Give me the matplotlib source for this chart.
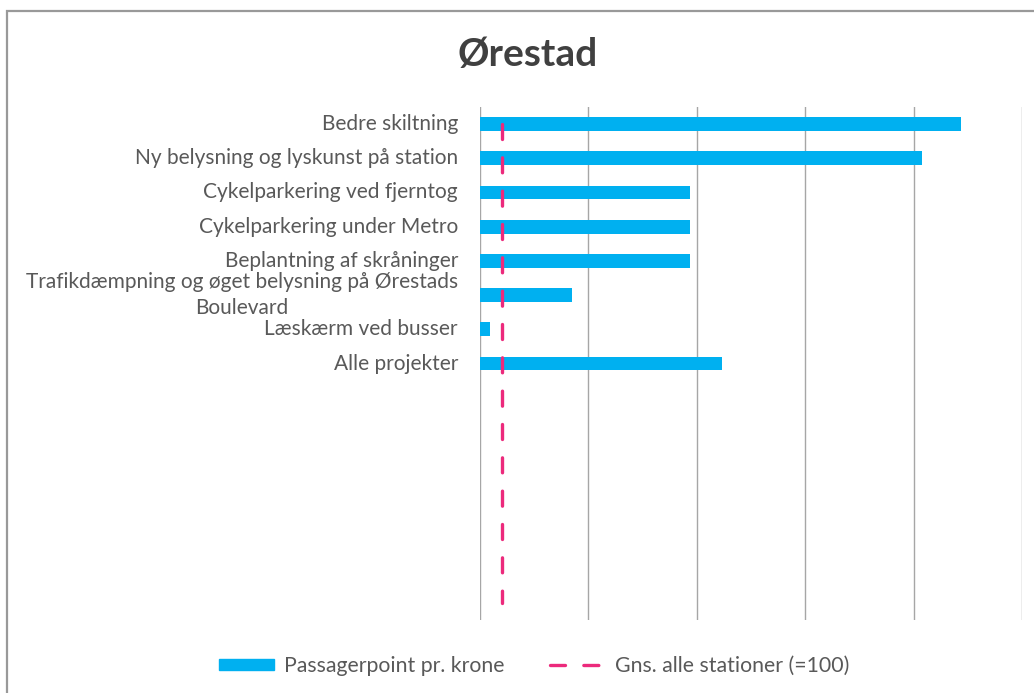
import matplotlib.pyplot as plt
import matplotlib.transforms as mtransforms
from matplotlib.patches import Rectangle, Patch
from matplotlib.lines import Line2D


CATEGORIES = [
    "Bedre skiltning",
    "Ny belysning og lyskunst på station",
    "Cykelparkering ved fjerntog",
    "Cykelparkering under Metro",
    "Beplantning af skråninger",
    "Trafikdæmpning og øget belysning på Ørestads\nBoulevard",
    "Læskærm ved busser",
    "Alle projekter",
]
POINTS_PER_KRONE = [2220, 2038, 968, 968, 968, 426, 46, 1114]
AVERAGE = 100
N_SLOTS = 15
X_TICKS = [0, 500, 1000, 1500, 2000, 2500]

BLUE = "#00B0F0"
PINK = "#EC2A7C"
TEXT = "#595959"
GRID = "#A6A6A6"
DASH = (0, (4.5, 5.5))

plt.rcParams["font.family"] = ["Lato", "DejaVu Sans"]

fig = plt.figure(figsize=(10.34, 6.93), dpi=100)
ax = fig.add_axes([480 / 1034, 1 - 620 / 693, 542 / 1034, 513 / 693])

ypos = list(range(len(CATEGORIES)))
ax.barh(ypos, POINTS_PER_KRONE, height=0.4, color=BLUE, zorder=2)
ax.plot([AVERAGE, AVERAGE], [0, N_SLOTS - 1], color=PINK, lw=2.4,
        linestyle=DASH, dash_capstyle="round", zorder=3)

ax.set_xlim(X_TICKS[0], X_TICKS[-1])
ax.set_ylim(N_SLOTS - 0.5, -0.5)
ax.set_xticks(X_TICKS)
ax.set_xticklabels([])
ax.set_yticks([])
ax.tick_params(axis="both", length=0)
ax.grid(axis="x", color=GRID, lw=1, zorder=0)
ax.set_axisbelow(True)
for s in ax.spines.values():
    s.set_visible(False)

# category labels, right aligned 22 px left of the axis
trans = mtransforms.blended_transform_factory(ax.transAxes, ax.transData)
trans = trans + mtransforms.ScaledTranslation(-22 / 100, 0, fig.dpi_scale_trans)
for y, name in zip(ypos, CATEGORIES):
    ax.text(0, y, name, transform=trans, ha="right", va="center",
            multialignment="center", fontsize=15, color=TEXT,
            linespacing=1.35)

fig.text(528 / 1034, 1 - 55 / 693, "Ørestad", ha="center", va="center",
         fontsize=28, fontweight="bold", color="#404040")

handles = [
    Patch(facecolor=BLUE, edgecolor=BLUE),
    Line2D([], [], color=PINK, lw=2.4, linestyle=DASH,
           dash_capstyle="round"),
]
fig.legend(handles, ["Passagerpoint pr. krone", "Gns. alle stationer (=100)"],
           loc="center", bbox_to_anchor=(534 / 1034, 1 - 666 / 693), ncol=2,
           frameon=False, fontsize=15.3, labelcolor=TEXT, handlelength=2.6,
           handleheight=0.45, columnspacing=2.15, handletextpad=0.45)

fig.patches.append(Rectangle((7 / 1034, -0.05), 1.1, 1 - 11 / 693 + 0.05,
                             transform=fig.transFigure, fill=False,
                             edgecolor="#999999", lw=1.6))

fig.savefig("out.png", dpi=100)
